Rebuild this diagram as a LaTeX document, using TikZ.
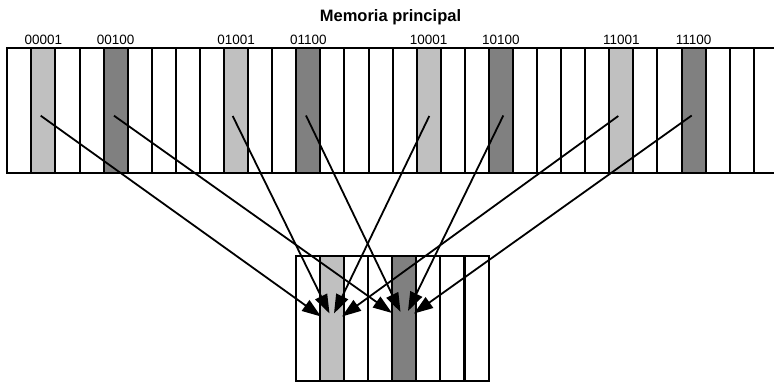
\documentclass[tikz,border=0pt]{standalone}
\usepackage{fontspec}
\setmainfont{Liberation Sans}
\usetikzlibrary{arrows.meta}
\definecolor{lightcell}{RGB}{192,192,192}
\definecolor{darkcell}{RGB}{128,128,128}
\tikzset{
  cellbox/.style={draw=black, line width=2pt, minimum width=24.08pt, minimum height=125pt, inner sep=0pt, outer sep=0pt},
  lightbox/.style={cellbox, fill=lightcell},
  darkbox/.style={cellbox, fill=darkcell},
  addr/.style={font=\fontsize{13.5}{13.5}\selectfont, anchor=base, inner sep=0pt},
  title/.style={font=\bfseries\fontsize{16.5}{16.5}\selectfont, anchor=base, inner sep=0pt},
  link/.style={line width=1.8pt, -{Triangle[length=19pt,width=13pt]}}
}
\begin{document}
\begin{tikzpicture}[x=1pt,y=-1pt]
\useasboundingbox (0,0) rectangle (774,383);
% main memory
\foreach \k in {0,...,30}{
  \node[cellbox, anchor=north west] (m\k) at ({7.3+\k*24.08},48.3) {};
}
\draw[line width=2pt] (m30.north east) -- (774,48.3);
\draw[line width=2pt] (m30.south east) -- (774,173.3);
\foreach \k in {1,9,17,25}{
  \node[lightbox, anchor=north west] at ({7.3+\k*24.08},48.3) {};
}
\foreach \k in {4,12,20,28}{
  \node[darkbox, anchor=north west] at ({7.3+\k*24.08},48.3) {};
}
% titles and labels
\node[title] (t) at (390.5,21) {Memoria principal};
\node[addr] (l1) at ({7.3+1.5*24.08},44) {00001};
\node[addr] (l2) at ({7.3+4.5*24.08},44) {00100};
\node[addr] (l3) at ({7.3+9.5*24.08},44) {01001};
\node[addr] (l4) at ({7.3+12.5*24.08},44) {01100};
\node[addr] (l5) at ({7.3+17.5*24.08},44) {10001};
\node[addr] (l6) at ({7.3+20.5*24.08},44) {10100};
\node[addr] (l7) at ({7.3+25.5*24.08},44) {11001};
\node[addr] (l8) at ({7.3+28.5*24.08},44) {11100};
% cache
\foreach \k in {0,...,7}{
  \node[cellbox, anchor=north west] (c\k) at ({296.3+\k*24.02},256.3) {};
}
\node[lightbox, anchor=north west] at ({296.3+1*24.02},256.3) {};
\node[darkbox, anchor=north west] at ({296.3+4*24.02},256.3) {};
% arrow ends
\coordinate (s1) at (40.7,115.7);
\coordinate (s2) at (114,115.7);
\coordinate (s3) at (232.7,116);
\coordinate (s4) at (306,115.5);
\coordinate (s5) at (429.3,116);
\coordinate (s6) at (503.3,115.5);
\coordinate (s7) at (618.3,116);
\coordinate (s8) at (691.7,115.5);
\coordinate (e1) at (321,316.5);
\coordinate (e3) at (329.5,313.5);
\coordinate (e5) at (334,313.5);
\coordinate (e7) at (342,316.5);
\coordinate (e2) at (392,313);
\coordinate (e4) at (400.5,312);
\coordinate (e6) at (408,311);
\coordinate (e8) at (414,313.5);
\foreach \i in {1,...,8}{
  \draw[link] (s\i) -- (e\i);
}
\end{tikzpicture}
\end{document}
